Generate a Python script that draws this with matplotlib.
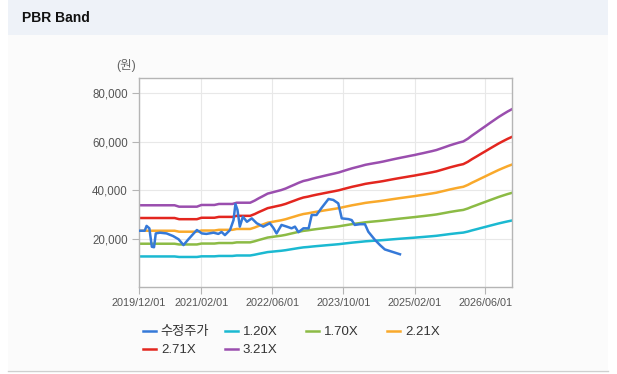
import matplotlib.pyplot as plt
import pandas as pd
from matplotlib.patches import Rectangle
from matplotlib.lines import Line2D
from matplotlib.ticker import StrMethodFormatter

plt.rcParams["font.family"] = ["Liberation Sans", "Noto Sans CJK KR", "DejaVu Sans"]

# monthly book value per share (2019-12 .. 2026-12)
band_start = "2019-12-01"
bps = [
    10500, 10500, 10500, 10500, 10500, 10500, 10500, 10500, 10500,
    10320, 10320, 10320, 10320, 10320,
    10540, 10540, 10540, 10540,
    10670, 10670, 10670, 10670,
    10830, 10830, 10830, 10830,
    11100, 11400, 11700, 12000, 12150, 12300, 12450, 12650, 12900, 13150,
    13400, 13620, 13750, 13900, 14050, 14180, 14320, 14450, 14580, 14720,
    14900, 15080, 15250, 15400, 15550, 15700, 15810, 15910, 16010, 16120,
    16250, 16380, 16500, 16620, 16730, 16850, 16960, 17080, 17200, 17330,
    17460, 17600, 17800, 18000, 18200, 18380, 18550, 18700, 19050, 19450,
    19850, 20250, 20650, 21050, 21450, 21850, 22200, 22550, 22850,
]
multiples = [1.20, 1.70, 2.21, 2.71, 3.21]
band_labels = ["1.20X", "1.70X", "2.21X", "2.71X", "3.21X"]
band_colors = ["#1bb9d1", "#8cbb45", "#f9a92b", "#e3261f", "#9a4eae"]

price_label = "수정주가"
price_color = "#3579d8"
price_dates = [
    "2019-12-06", "2020-01-09", "2020-01-22", "2020-02-10", "2020-02-27",
    "2020-03-13", "2020-03-25", "2020-04-22", "2020-06-07", "2020-07-22",
    "2020-08-28", "2020-10-01", "2020-11-04", "2020-12-10", "2021-01-01",
    "2021-02-04", "2021-03-07", "2021-04-25", "2021-05-28", "2021-06-19",
    "2021-07-12", "2021-08-16", "2021-09-09", "2021-09-22", "2021-10-06",
    "2021-10-22", "2021-11-12", "2021-12-10", "2022-01-12", "2022-02-15",
    "2022-04-01", "2022-05-16", "2022-06-10", "2022-07-01", "2022-08-04",
    "2022-09-09", "2022-10-12", "2022-11-04", "2022-11-28", "2023-01-01",
    "2023-02-06", "2023-02-27", "2023-04-01", "2023-05-04", "2023-06-22",
    "2023-07-25", "2023-08-28", "2023-09-21", "2023-11-06", "2023-11-28",
    "2023-12-19", "2024-01-24", "2024-02-27", "2024-03-21", "2024-05-06",
    "2024-06-09", "2024-07-12", "2024-08-28", "2024-10-24",
]
price_values = [
    23200, 23200, 25200, 24200, 16600,
    16400, 22100, 22400, 22100, 21000,
    19700, 17300, 19700, 22100, 23500,
    22100, 21900, 22400, 21900, 22700,
    21400, 23500, 27600, 34200, 31800,
    24900, 29000, 26900, 28300, 26300,
    24900, 26300, 24300, 22100, 25600,
    24900, 24200, 24900, 22600, 24200,
    24200, 29700, 29700, 32500, 36300,
    35900, 34500, 28300, 28000, 27600,
    25600, 25900, 25900, 22800, 19400,
    17300, 15500, 14600, 13500,
]

x_ticks = ["2019-12-01", "2021-02-01", "2022-06-01", "2023-10-01", "2025-02-01", "2026-06-01"]
x_tick_labels = ["2019/12/01", "2021/02/01", "2022/06/01", "2023/10/01", "2025/02/01", "2026/06/01"]
y_ticks = [20000, 40000, 60000, 80000]

W, H = 617, 374


def fx(x):
    return x / W


def fy(y):
    return 1 - y / H


fig = plt.figure(figsize=(W / 100, H / 100), dpi=100)
fig.patch.set_facecolor("white")

# panel background, header strip and bottom rule
fig.add_artist(Rectangle((fx(8), fy(370)), fx(600), 335 / H, transform=fig.transFigure,
                         facecolor="#fbfbfb", edgecolor="none", zorder=0))
fig.add_artist(Rectangle((fx(8), fy(35)), fx(600), 35 / H, transform=fig.transFigure,
                         facecolor="#eef2f8", edgecolor="none", zorder=0))
fig.add_artist(Line2D([fx(8), fx(608)], [fy(370.5)] * 2, transform=fig.transFigure,
                      color="#cfcfcf", lw=1))
fig.text(fx(22), fy(18), "PBR Band", fontsize=10, fontweight="bold", color="#111111",
         va="center", ha="left")
fig.text(fx(126), fy(65), "(원)", fontsize=9, color="#666666", va="center", ha="center")

ax = fig.add_axes([fx(139), fy(287), (512 - 139) / W, (287 - 78) / H])
ax.set_facecolor("white")

band_dates = pd.date_range(band_start, periods=len(bps), freq="MS")
band_lines = []
for m, lab, col in zip(multiples, band_labels, band_colors):
    (ln,) = ax.plot(band_dates, [b * m for b in bps], color=col, lw=1.8, label=lab, zorder=2)
    band_lines.append(ln)

(price_line,) = ax.plot(pd.to_datetime(price_dates), price_values, color=price_color,
                        lw=1.8, label=price_label, zorder=3)

ax.set_xlim(pd.Timestamp("2019-12-01"), pd.Timestamp("2026-12-01"))
ax.set_ylim(0, 86200)
ax.set_xticks(pd.to_datetime(x_ticks))
ax.set_xticklabels(x_tick_labels)
ax.set_yticks(y_ticks)
ax.yaxis.set_major_formatter(StrMethodFormatter("{x:,.0f}"))
ax.tick_params(axis="x", length=5, color="#b5b5b5", labelsize=7.8, labelcolor="#555555", pad=3)
ax.tick_params(axis="y", length=5, color="#b5b5b5", labelsize=8.3, labelcolor="#555555", pad=3)
ax.grid(True, color="#e8e8e8", lw=0.8, zorder=0)
ax.set_axisbelow(True)
for sp in ax.spines.values():
    sp.set_color("#b5b5b5")
    sp.set_linewidth(1)

# legend laid out row by row in fixed-width columns
handles = [price_line] + band_lines
columns = [[0, 4], [1, 5], [2], [3]]
col_x = [143, 225, 306, 387]
for idx, x in zip(columns, col_x):
    fig.legend([handles[i] for i in idx], [handles[i].get_label() for i in idx],
               loc="upper left", bbox_to_anchor=(fx(x), fy(326)), frameon=False,
               fontsize=9.5, handlelength=1.0, handletextpad=0.35, borderpad=0,
               borderaxespad=0, labelspacing=0.45, labelcolor="#333333")

fig.savefig("out.png", dpi=100)
